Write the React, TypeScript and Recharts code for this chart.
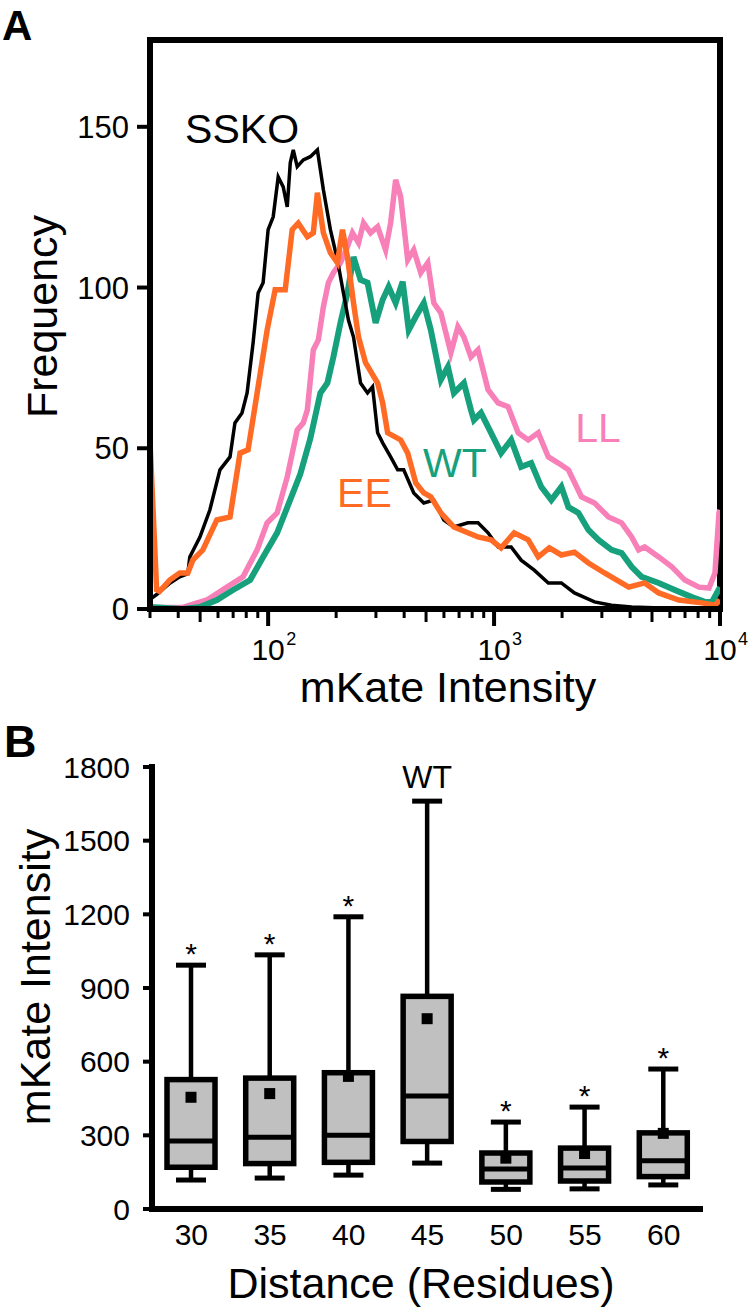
import React from 'react';
import {
  LineChart,
  Line,
  XAxis,
  YAxis,
  ReferenceLine,
  ReferenceDot,
  ComposedChart,
  Bar,
} from 'recharts';

const FONT = '"Liberation Sans", Arial, Helvetica, sans-serif';

// ---------------- Panel A: mKate intensity histograms ----------------
const SSKO_X = [30, 32.1, 36.7, 40.6, 44.1, 45, 49.9, 55.2, 61.2, 67.8, 71.3, 76.6, 80.7, 85.8, 90.3, 95, 100, 105.3, 110.8, 116.6, 121.5, 125.3, 129.2, 134.5, 143.1, 153.7, 165.2, 175.6, 188.6, 202.6, 215.4, 226.7, 238.7, 256.4, 275.4, 289.9, 305.2, 321.3, 348.5, 374.4, 398.1, 441, 488.6, 541.2, 599.5, 664, 766, 849, 940.5, 1042, 1190, 1318, 1506, 1738, 1985, 2268, 2783, 3311, 4064, 5500, 8318, 10000];
const SSKO_Y = [3, 4.5, 8, 10, 11, 16.2, 22.4, 30.8, 43.3, 47.3, 57.9, 61, 67.2, 82.8, 98.3, 101.5, 118, 122, 134.4, 131.3, 125.1, 138.8, 142.8, 137.6, 139.7, 140.7, 142.8, 130.4, 118, 108.6, 98.3, 89.9, 84.6, 70.3, 67.2, 69.1, 54.8, 51.7, 47.3, 43.3, 43.3, 36.1, 33, 33.9, 27.7, 25.5, 26.8, 26.8, 23.7, 19.3, 19.3, 15.2, 12.1, 8.1, 8.1, 5, 2.2, 1.2, 0.6, 0.3, 0.1, 0];

const EE_X = [30, 32.1, 33.1, 36.7, 40.6, 44.1, 46.4, 51.4, 59.3, 67.8, 75.1, 81.5, 89.4, 99, 107.4, 119, 127.8, 135.9, 149.1, 158.5, 165.2, 175.6, 188.6, 202.6, 213.3, 224.4, 238.7, 251.2, 269.8, 305.2, 321.3, 338, 386, 414.7, 450.2, 488.6, 524.8, 581.4, 664, 766, 849, 970, 1074, 1227, 1416, 1569, 1756, 1985, 2268, 2617, 3083, 3942, 4642, 5357, 6574, 8318, 9502, 10000];
const EE_Y = [52, 6, 5.5, 9, 11.2, 11.2, 15.2, 18.4, 27.7, 28.6, 48.5, 49.5, 67.2, 86.8, 99.3, 99.3, 118, 120, 115.8, 117, 129.5, 117, 110.8, 107.7, 118, 109.5, 95.2, 84.6, 76.6, 70.3, 64.1, 54.8, 52.6, 48.5, 39.2, 36.1, 34.9, 29.9, 25.5, 23.7, 22.4, 21.5, 19, 23.7, 21.5, 16.2, 19, 16.8, 17.7, 14.3, 11.2, 6.8, 8.1, 5, 2.8, 1.9, 1.2, 2.8];

const WT_X = [30, 41.9, 49.9, 59.3, 69.9, 83.2, 95, 109.6, 125.3, 138.8, 153.7, 170.3, 182.9, 194.5, 208.9, 224.4, 238.7, 256.4, 275.4, 299, 321.3, 341.5, 366.8, 394, 419, 450.2, 488.6, 524.8, 581.4, 624.6, 664, 735.5, 790, 814.5, 875.5, 969.8, 1074, 1190, 1318, 1460, 1617, 1792, 1985, 2133, 2363, 2617, 2899, 3311, 3668, 4064, 4501, 5357, 6310, 7507, 8577, 9213, 10000];
const WT_Y = [0.6, 0, 0.6, 2.8, 5.9, 9, 16.2, 23.7, 34, 42, 53, 67.2, 70.3, 78.4, 89, 98.3, 109.5, 102.4, 101.5, 89, 96.2, 100.2, 95.2, 101.8, 86.8, 90.9, 95.2, 86.8, 71.3, 75.3, 67.2, 70.3, 61.9, 58.8, 61, 54.8, 48.5, 52.6, 44.2, 45.4, 38, 33.9, 38, 31.7, 29.9, 24.6, 21.5, 18.4, 17.4, 13.1, 10, 8.1, 5.9, 3.7, 2.2, 2.2, 6.8];

const LL_X = [30, 41.9, 53.6, 65.7, 77.4, 89.4, 99, 109.6, 121.5, 134.5, 143.1, 149.1, 158.5, 166.8, 175.6, 184.8, 194.5, 208.9, 224.4, 236.2, 251.2, 264.4, 284, 305.2, 331.1, 348.5, 366.8, 386, 414.7, 441, 473.8, 508.9, 541.2, 581.4, 644, 691.8, 735.5, 790, 849, 940.5, 1042, 1154, 1278, 1416, 1569, 1738, 1925, 2133, 2437, 2783, 3211, 3668, 4064, 4365, 4642, 5357, 6119, 6988, 8066, 8937, 9502, 9898, 10000];
const LL_Y = [0.5, 0.5, 2.8, 6.8, 10, 18.4, 26.8, 29.9, 41.1, 55.7, 57.9, 61.9, 80.6, 83.7, 94, 101.5, 104.6, 107.7, 112.7, 117, 113.9, 120.1, 117, 118.9, 111.7, 120.1, 133.5, 128.2, 108.6, 111.7, 104.6, 107.7, 95.2, 92.1, 79.7, 87.8, 84.6, 78.4, 80.6, 68.2, 64.1, 62.9, 54.8, 52.6, 54.8, 47.3, 45.4, 43.3, 34.9, 33, 28.6, 26.8, 22.4, 18.4, 19.3, 16.2, 13.1, 9, 6.8, 6.5, 11.2, 29.9, 30.8];

const A_Y_TICKS = [0, 50, 100, 150];
const A_Y_MAX = 177;
const A_X_DOMAIN = [30, 10000];
const A_X_DECADES = [100, 1000, 10000];
const A_X_MID = [50, 500, 5000];
const A_X_MINOR = [30, 40, 60, 70, 80, 90, 200, 300, 400, 600, 700, 800, 900, 2000, 3000, 4000, 6000, 7000, 8000, 9000];
const A_X_TICKS = [...A_X_MINOR, ...A_X_MID, ...A_X_DECADES].sort((a, b) => a - b);

// series drawn back to front
const A_SERIES = [
  { name: 'LL', xs: LL_X, ys: LL_Y, color: '#F880B8', width: 5.5, labelAt: [2286, 52] },
  { name: 'WT', xs: WT_X, ys: WT_Y, color: '#16A07C', width: 6, labelAt: [485, 41] },
  { name: 'SSKO', xs: SSKO_X, ys: SSKO_Y, color: '#000000', width: 3.5, labelAt: [42.9, 145] },
  { name: 'EE', xs: EE_X, ys: EE_Y, color: '#FF6B24', width: 5.5, labelAt: [202, 31.7] },
];

const toPoints = (xs: number[], ys: number[]) => xs.map((x, i) => ({ x, y: ys[i] }));

// ---------------- Panel B: box plots ----------------
const DISTANCES = ['30', '35', '40', '45', '50', '55', '60'];
const MINS = [118, 126, 138, 187, 80, 82, 98];
const Q1S = [170, 185, 190, 275, 110, 114, 132];
const MEDIANS = [277, 292, 300, 460, 163, 167, 196];
const Q3S = [527, 533, 555, 866, 228, 248, 310];
const MAXS = [993, 1035, 1190, 1661, 354, 415, 570];
const MEANS = [455, 470, 540, 775, 207, 226, 308];
const NOTES = ['*', '*', '*', 'WT', '*', '*', '*'];
const B_Y_TICKS = [0, 300, 600, 900, 1200, 1500, 1800];

const boxRows = DISTANCES.map((d, i) => ({
  distance: d,
  min: MINS[i],
  q1: Q1S[i],
  median: MEDIANS[i],
  q3: Q3S[i],
  max: MAXS[i],
  mean: MEANS[i],
  note: NOTES[i],
}));

const LogTick = (props: any) => {
  const { x, y, payload } = props;
  const v = payload.value;
  const isMajor = A_X_DECADES.includes(v);
  const isMid = A_X_MID.includes(v);
  const len = isMajor ? 17 : isMid ? 13 : 9;
  const exp = String(Math.round(Math.log10(v)));
  return (
    <g>
      <line x1={x} x2={x} y1={y} y2={y + len} stroke="#000" strokeWidth={isMajor ? 4 : 3} />
      {isMajor && (
        <g fontFamily={FONT} fill="#000">
          <text x={x} y={y + 51} textAnchor="middle" fontSize={30}>10</text>
          <text x={x + 18} y={y + 36} textAnchor="start" fontSize={18}>{exp}</text>
        </g>
      )}
    </g>
  );
};

const BoxShape = (props: any) => {
  const { x, y, width, height, payload } = props;
  if (!payload) return null;
  const top = Math.min(y, y + height);
  const bottom = Math.max(y, y + height);
  const { min, max, q1, median, q3, mean, note } = payload;
  const k = (bottom - top) / (max - min);
  const py = (v: number) => bottom - (v - min) * k;
  const cx = x + width / 2;
  const capW = 30;
  const isWT = note === 'WT';
  return (
    <g>
      <line x1={cx} x2={cx} y1={py(max)} y2={py(q3)} stroke="#000" strokeWidth={4.5} />
      <line x1={cx} x2={cx} y1={py(q1)} y2={py(min)} stroke="#000" strokeWidth={4.5} />
      <line x1={cx - capW / 2} x2={cx + capW / 2} y1={py(max)} y2={py(max)} stroke="#000" strokeWidth={5} />
      <line x1={cx - capW / 2} x2={cx + capW / 2} y1={py(min)} y2={py(min)} stroke="#000" strokeWidth={5} />
      <rect x={x} y={py(q3)} width={width} height={py(q1) - py(q3)} fill="#C0C0C0" stroke="#000" strokeWidth={5.5} />
      <line x1={x} x2={x + width} y1={py(median)} y2={py(median)} stroke="#000" strokeWidth={5} />
      <rect x={cx - 5.5} y={py(mean) - 5.5} width={11} height={11} fill="#000" />
      <text
        x={cx}
        y={isWT ? py(max) - 13 : py(max) - 1}
        textAnchor="middle"
        fontFamily={FONT}
        fontSize={isWT ? 32 : 30}
        fill="#000"
      >
        {note}
      </text>
    </g>
  );
};

const axisTitle = (text: string, dx: number, dy: number, rotate: boolean) => (p: any) => {
  const vb = p.viewBox || {};
  const cx = vb.x + (rotate ? 0 : vb.width / 2) + dx;
  const cy = vb.y + (rotate ? vb.height / 2 : 0) + dy;
  return (
    <text
      x={cx}
      y={cy}
      textAnchor="middle"
      fontFamily={FONT}
      fontSize={43}
      fill="#000"
      transform={rotate ? `rotate(-90, ${cx}, ${cy})` : undefined}
    >
      {text}
    </text>
  );
};

const seriesLabel = (text: string, color: string) => (p: any) => {
  const vb = p.viewBox || {};
  return (
    <text x={vb.x + 1} y={vb.y + 1} fontFamily={FONT} fontSize={41} fill={color} textAnchor="start">
      {text}
    </text>
  );
};

export default function App() {
  return (
    <div style={{ position: 'absolute', left: 0, top: 0, width: 750, height: 1309, background: '#fff' }}>
      <div style={{ position: 'absolute', left: 0, top: 0 }}>
        <LineChart width={750} height={722} margin={{ top: 40, right: 30, bottom: 53, left: 90 }}>
          <XAxis
            type="number"
            dataKey="x"
            scale="log"
            domain={A_X_DOMAIN}
            allowDataOverflow
            ticks={A_X_TICKS}
            interval={0}
            tick={<LogTick />}
            tickLine={false}
            tickSize={0}
            tickMargin={0}
            height={60}
            axisLine={{ stroke: '#000', strokeWidth: 6, strokeLinecap: 'square' }}
            label={axisTitle('mKate Intensity', 13, 93, false)}
          />
          <YAxis
            type="number"
            domain={[0, A_Y_MAX]}
            allowDataOverflow
            ticks={A_Y_TICKS}
            interval={0}
            width={60}
            tickSize={13}
            tickMargin={8}
            tick={{ fill: '#000', fontSize: 31, fontFamily: FONT }}
            tickLine={{ stroke: '#000', strokeWidth: 4 }}
            axisLine={{ stroke: '#000', strokeWidth: 6, strokeLinecap: 'square' }}
            label={axisTitle('Frequency', -33, -8, true)}
          />
          <ReferenceLine y={A_Y_MAX} stroke="#000" strokeWidth={6} ifOverflow="visible" strokeLinecap="square" />
          <ReferenceLine x={A_X_DOMAIN[1]} stroke="#000" strokeWidth={6} ifOverflow="visible" strokeLinecap="square" />
          {A_SERIES.map((s) => (
            <Line
              key={s.name}
              data={toPoints(s.xs, s.ys)}
              dataKey="y"
              type="linear"
              stroke={s.color}
              strokeWidth={s.width}
              dot={false}
              activeDot={false}
              isAnimationActive={false}
            />
          ))}
          {A_SERIES.map((s) => (
            <ReferenceDot
              key={'lab' + s.name}
              x={s.labelAt[0]}
              y={s.labelAt[1]}
              r={1}
              fill="none"
              stroke="none"
              ifOverflow="visible"
              label={seriesLabel(s.name, s.color)}
            />
          ))}
        </LineChart>
      </div>
      <div style={{ position: 'absolute', left: 0, top: 710 }}>
        <ComposedChart width={750} height={599} data={boxRows} margin={{ top: 57, right: 47, bottom: 40, left: 90 }}>
          <XAxis
            dataKey="distance"
            type="category"
            interval={0}
            tickLine={false}
            tickSize={0}
            tickMargin={15}
            height={60}
            tick={{ fill: '#000', fontSize: 30, fontFamily: FONT }}
            axisLine={{ stroke: '#000', strokeWidth: 6 }}
            label={axisTitle('Distance (Residues)', -6.5, 89, false)}
          />
          <YAxis
            type="number"
            domain={[0, 1800]}
            ticks={B_Y_TICKS}
            interval={0}
            width={62}
            tickSize={9}
            tickMargin={13}
            tick={{ fill: '#000', fontSize: 30, fontFamily: FONT }}
            tickLine={{ stroke: '#000', strokeWidth: 4 }}
            axisLine={{ stroke: '#000', strokeWidth: 6, strokeLinecap: 'square' }}
            label={axisTitle('mKate Intensity', -40, -11, true)}
          />
          <Bar
            dataKey={(d: any) => [d.min, d.max]}
            barSize={48}
            shape={<BoxShape />}
            isAnimationActive={false}
          />
        </ComposedChart>
      </div>
      <svg width={750} height={1309} style={{ position: 'absolute', left: 0, top: 0, pointerEvents: 'none' }}>
        <text x={2} y={40} fontFamily={FONT} fontWeight="bold" fontSize={42} fill="#000">A</text>
        <text x={4} y={757} fontFamily={FONT} fontWeight="bold" fontSize={45} fill="#000">B</text>
      </svg>
    </div>
  );
}
